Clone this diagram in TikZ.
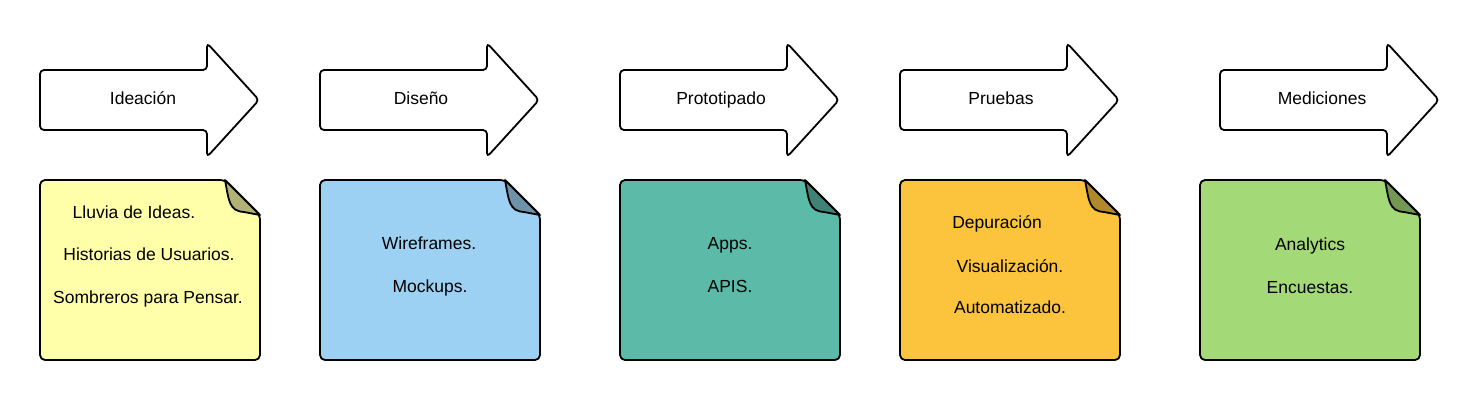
\documentclass[tikz,border=0pt]{standalone}
\usepackage{fontspec}
\setmainfont{Liberation Sans}
\definecolor{yel}{HTML}{FFFFAA}
\definecolor{blu}{HTML}{9CD1F3}
\definecolor{tea}{HTML}{5CBBA8}
\definecolor{ora}{HTML}{FCC43C}
\definecolor{gre}{HTML}{A3D977}
\newcommand\myarrow[2]{%
  \draw[shapeline,fill=white,rounded corners=4] (#1,70) -- (#1+167,70) -- (#1+167,43) -- (#1+219,100) -- (#1+167,157) -- (#1+167,130) -- (#1,130) -- cycle;
}
\newcommand\mynote[2]{%
  \draw[shapeline,fill=#2,rounded corners=5] (#1+185,180) -- (#1,180) -- (#1,360) -- (#1+220,360) -- (#1+220,215) -- cycle;
  \draw[shapeline,fill=#2!70!black] (#1+185,180) .. controls (#1+189,201) and (#1+189,211) .. (#1+204,212) -- (#1+220,215) -- cycle;
}
\begin{document}
\begin{tikzpicture}[x=1pt,y=-1pt,
  shapeline/.style={line width=1.8pt,line join=round},
  lbl/.style={font=\fontsize{17.5}{20}\selectfont,inner sep=0pt,anchor=base}]
\useasboundingbox (0,0) rectangle (1480,400);
\myarrow{40}{}
\myarrow{320}{}
\myarrow{620}{}
\myarrow{900}{}
\myarrow{1220}{}
\mynote{40}{yel}
\mynote{320}{blu}
\mynote{620}{tea}
\mynote{900}{ora}
\mynote{1200}{gre}
\node[lbl] (a1) at (143,104) {Ideación};
\node[lbl] (a2) at (421,104) {Diseño};
\node[lbl] (a3) at (721,104) {Prototipado};
\node[lbl] (a4) at (1001,104) {Pruebas};
\node[lbl] (a5) at (1322,104) {Mediciones};
\node[lbl] (n11) at (134,218) {Lluvia de Ideas.};
\node[lbl] (n12) at (149,260) {Historias de Usuarios.};
\node[lbl] (n13) at (148,303) {Sombreros para Pensar.};
\node[lbl] (n21) at (429,249) {Wireframes.};
\node[lbl] (n22) at (430,292) {Mockups.};
\node[lbl] (n31) at (730,249) {Apps.};
\node[lbl] (n32) at (730,292) {APIS.};
\node[lbl] (n41) at (997,228) {Depuración};
\node[lbl] (n42) at (1010,272) {Visualización.};
\node[lbl] (n43) at (1010,313) {Automatizado.};
\node[lbl] (n51) at (1310,250) {Analytics};
\node[lbl] (n52) at (1310,293) {Encuestas.};
\end{tikzpicture}
\end{document}
